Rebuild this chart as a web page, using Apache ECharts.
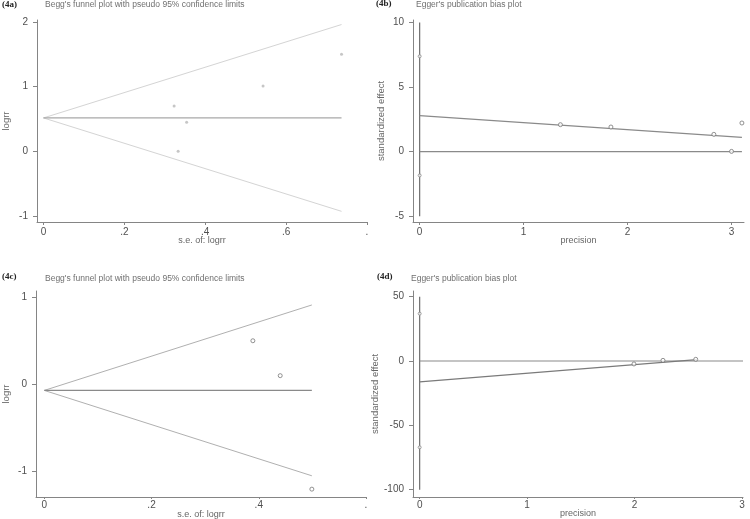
<!DOCTYPE html>
<html>
<head>
<meta charset="utf-8">
<script src="https://cdn.jsdelivr.net/npm/echarts@6/dist/echarts.min.js"></script>
<style>html,body{margin:0;padding:0;background:#fff}#c{width:750px;height:519px}</style>
</head>
<body>
<div id="c"></div>
<script>
// ---- (4a) Begg's funnel plot ----
const beggA_se = [0.737, 0.543, 0.323, 0.354, 0.333];
const beggA_logrr = [1.50, 1.01, 0.70, 0.45, 0.00];
const beggA_pooled = 0.515;
const beggA_lineX = [0, 0.737];
const beggA_upper = [0.515, 1.96];
const beggA_lower = [0.515, -0.93];
const beggA_xTicks = [0, 0.2, 0.4, 0.6, 0.8];
const beggA_xTickLabels = ['0', '.2', '.4', '.6', '.'];
const beggA_yTicks = [-1, 0, 1, 2];
const beggA_yTickLabels = ['-1', '0', '1', '2'];

// ---- (4b) Egger's plot ----
const eggerB_precision = [1.354, 1.84, 2.83, 3.00, 3.10];
const eggerB_effect = [2.09, 1.91, 1.34, 0.02, 2.22];
const eggerB_ci = [-1.84, 7.39];
const eggerB_vline = [-5, 10];
const eggerB_fitX = [0, 3.10];
const eggerB_fitY = [2.79, 1.11];
const eggerB_zeroX = [0, 3.10];
const eggerB_xTicks = [0, 1, 2, 3];
const eggerB_xTickLabels = ['0', '1', '2', '3'];
const eggerB_yTicks = [-5, 0, 5, 10];
const eggerB_yTickLabels = ['-5', '0', '5', '10'];

// ---- (4c) Begg's funnel plot ----
const beggC_se = [0.389, 0.440, 0.499];
const beggC_logrr = [0.50, 0.10, -1.20];
const beggC_pooled = -0.069;
const beggC_lineX = [0, 0.499];
const beggC_upper = [-0.069, 0.91];
const beggC_lower = [-0.069, -1.047];
const beggC_xTicks = [0, 0.2, 0.4, 0.6];
const beggC_xTickLabels = ['0', '.2', '.4', '.'];
const beggC_yTicks = [-1, 0, 1];
const beggC_yTickLabels = ['-1', '0', '1'];

// ---- (4d) Egger's plot ----
const eggerD_precision = [1.995, 2.265, 2.57];
const eggerD_effect = [-2.3, 0.5, 1.3];
const eggerD_ci = [-67.1, 36.8];
const eggerD_vline = [-100, 50];
const eggerD_fitX = [0, 2.58];
const eggerD_fitY = [-16.3, 1.0];
const eggerD_zeroX = [0, 3.01];
const eggerD_xTicks = [0, 1, 2, 3];
const eggerD_xTickLabels = ['0', '1', '2', '3'];
const eggerD_yTicks = [-100, -50, 0, 50];
const eggerD_yTickLabels = ['-100', '-50', '0', '50'];

const FONT = 'Liberation Sans, Arial, sans-serif';
const AXIS_COLOR = '#858585';
const LABEL_COLOR = '#505050';

function pairs(xs, ys) { return xs.map((x, i) => [x, ys[i]]); }
function mkAxis(kind, gi, min, max, ticks, labels, name, nameGap, labelMargin, tickLen) {
  return {
    type: 'value', gridIndex: gi, min: min, max: max,
    splitLine: { show: false },
    axisLine: { show: true, onZero: false, lineStyle: { color: AXIS_COLOR, width: 1 } },
    axisTick: { show: true, length: tickLen, customValues: ticks, lineStyle: { color: AXIS_COLOR } },
    axisLabel: {
      customValues: ticks, color: LABEL_COLOR, fontFamily: FONT, fontSize: 10,
      margin: labelMargin,
      formatter: v => { const i = ticks.findIndex(t => Math.abs(t - v) < 1e-9); return i >= 0 ? labels[i] : ''; }
    },
    name: name, nameLocation: 'middle', nameGap: nameGap,
    nameMoveOverlap: kind === 'y',
    nameTextStyle: { color: '#666', fontFamily: FONT, fontSize: kind === 'y' ? 9.5 : 9 }
  };
}
function lineSeries(gi, data, color, width) {
  return { type: 'line', xAxisIndex: gi, yAxisIndex: gi, data: data, symbol: 'none', silent: true,
    lineStyle: { color: color, width: width }, z: 2 };
}
function scatterSeries(gi, data, opts) {
  return Object.assign({ type: 'scatter', xAxisIndex: gi, yAxisIndex: gi, data: data, silent: true, z: 3 }, opts);
}
function tag(text, left, top) {
  return { text: text, left: left, top: top, padding: 0,
    textStyle: { fontFamily: 'Liberation Serif, serif', fontWeight: 'bold', fontSize: 9, color: '#222' } };
}
function heading(text, left, top) {
  return { text: text, left: left, top: top, padding: 0,
    textStyle: { fontFamily: FONT, fontWeight: 'normal', fontSize: 8.5, color: '#707070' } };
}

const chart = echarts.init(document.getElementById('c'), null, { renderer: 'canvas' });
const option = {
  animation: false,
  backgroundColor: '#fff',
  title: [
    tag('(4a)', 2, 0),
    heading("Begg's funnel plot with pseudo 95% confidence limits", 45, 0),
    tag('(4b)', 376, -1),
    heading("Egger's publication bias plot", 416, 0),
    tag('(4c)', 2, 272),
    heading("Begg's funnel plot with pseudo 95% confidence limits", 45, 274),
    tag('(4d)', 377, 272),
    heading("Egger's publication bias plot", 411, 274)
  ],
  grid: [
    { left: 37, top: 20, width: 330, height: 202, containLabel: false, outerBoundsMode: 'none' },
    { left: 413, top: 20, width: 331, height: 202, containLabel: false, outerBoundsMode: 'none' },
    { left: 36, top: 291, width: 330, height: 206, containLabel: false, outerBoundsMode: 'none' },
    { left: 413, top: 291, width: 330, height: 206, containLabel: false, outerBoundsMode: 'none' }
  ],
  xAxis: [
    mkAxis('x', 0, -0.016, 0.8, beggA_xTicks, beggA_xTickLabels, 's.e. of: logrr', 14, 5, 3),
    mkAxis('x', 1, -0.064, 3.12, eggerB_xTicks, eggerB_xTickLabels, 'precision', 14, 5, 3),
    mkAxis('x', 2, -0.0155, 0.6, beggC_xTicks, beggC_xTickLabels, 's.e. of: logrr', 13, 3, 2),
    mkAxis('x', 3, -0.062, 3.01, eggerD_xTicks, eggerD_xTickLabels, 'precision', 12, 3, 2)
  ],
  yAxis: [
    mkAxis('y', 0, -1.095, 2.03, beggA_yTicks, beggA_yTickLabels, 'logrr', 26, 9, 4),
    mkAxis('y', 1, -5.45, 10.2, eggerB_yTicks, eggerB_yTickLabels, 'standardized effect', 27, 9, 4),
    mkAxis('y', 2, -1.29, 1.07, beggC_yTicks, beggC_yTickLabels, 'logrr', 25, 9, 4),
    mkAxis('y', 3, -105.7, 54.4, eggerD_yTicks, eggerD_yTickLabels, 'standardized effect', 27, 9, 4)
  ],
  series: [
    // (4a)
    lineSeries(0, pairs(beggA_lineX, beggA_upper), '#d4d4d4', 1),
    lineSeries(0, pairs(beggA_lineX, beggA_lower), '#d4d4d4', 1),
    lineSeries(0, pairs(beggA_lineX, [beggA_pooled, beggA_pooled]), '#a8a8a8', 1.2),
    scatterSeries(0, pairs(beggA_se, beggA_logrr), { symbol: 'circle', symbolSize: 3, itemStyle: { color: '#b8b8b8' } }),
    // (4b)
    lineSeries(1, pairs([0, 0], eggerB_vline), '#6e6e6e', 1.2),
    lineSeries(1, pairs(eggerB_zeroX, [0, 0]), '#8a8a8a', 1.2),
    lineSeries(1, pairs(eggerB_fitX, eggerB_fitY), '#8a8a8a', 1.2),
    scatterSeries(1, pairs([0, 0], eggerB_ci), { symbol: 'circle', symbolSize: 3, itemStyle: { color: '#fff', borderColor: '#888', borderWidth: 1 } }),
    scatterSeries(1, pairs(eggerB_precision, eggerB_effect), { symbol: 'circle', symbolSize: 4, itemStyle: { color: '#fff', borderColor: '#777', borderWidth: 1 } }),
    // (4c)
    lineSeries(2, pairs(beggC_lineX, beggC_upper), '#b0b0b0', 1),
    lineSeries(2, pairs(beggC_lineX, beggC_lower), '#b0b0b0', 1),
    lineSeries(2, pairs(beggC_lineX, [beggC_pooled, beggC_pooled]), '#8a8a8a', 1.4),
    scatterSeries(2, pairs(beggC_se, beggC_logrr), { symbol: 'circle', symbolSize: 4, itemStyle: { color: '#fff', borderColor: '#777', borderWidth: 1 } }),
    // (4d)
    lineSeries(3, pairs([0, 0], eggerD_vline), '#6e6e6e', 1.2),
    lineSeries(3, pairs(eggerD_zeroX, [0, 0]), '#8a8a8a', 1.2),
    lineSeries(3, pairs(eggerD_fitX, eggerD_fitY), '#7a7a7a', 1.2),
    scatterSeries(3, pairs([0, 0], eggerD_ci), { symbol: 'circle', symbolSize: 3, itemStyle: { color: '#fff', borderColor: '#888', borderWidth: 1 } }),
    scatterSeries(3, pairs(eggerD_precision, eggerD_effect), { symbol: 'circle', symbolSize: 4, itemStyle: { color: '#fff', borderColor: '#777', borderWidth: 1 } })
  ]
};
chart.setOption(option);
</script>
</body>
</html>
